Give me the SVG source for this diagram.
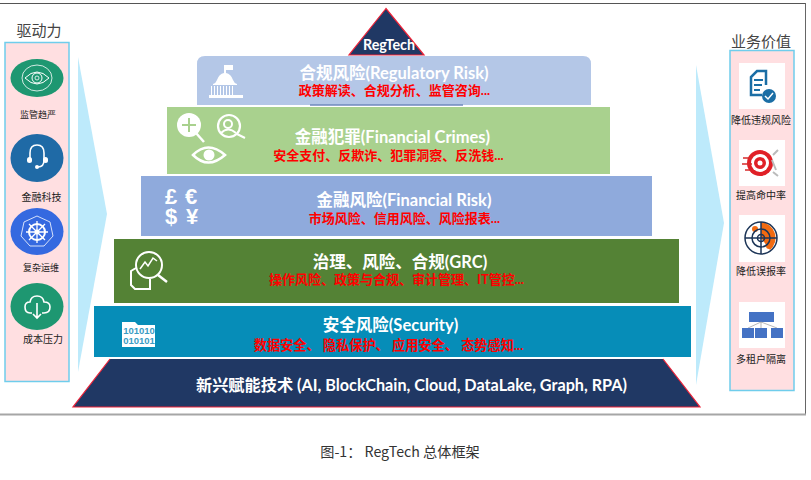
<svg xmlns="http://www.w3.org/2000/svg" width="811" height="480" viewBox="0 0 811 480">
<style>
text{font-family:Lato,"Noto Sans CJK SC","Liberation Sans",sans-serif}
.h{fill:#fff;font-weight:700;font-size:16.500px;text-anchor:middle}
.s{fill:#f00;font-weight:700;font-size:13px;text-anchor:middle}
.l{fill:#222;font-size:10px;text-anchor:middle;font-family:"Noto Sans CJK SC",sans-serif}
.t{fill:#444;font-size:15px;text-anchor:middle;font-family:"Noto Sans CJK SC",sans-serif}
.m{font-family:"Liberation Sans",sans-serif;font-weight:700;text-anchor:middle}
.c{fill:#fff;font-size:22px}
.b{fill:#3a9cc4;font-size:9.500px}
.i{fill:none;stroke:#fff;stroke-width:1.6}
.w{fill:#fff}
.card{fill:#fff}
.panel{fill:#ffdfe1;stroke-width:1.5}
</style>
<rect width="811" height="480" fill="#fff"/>
<g id="frame" fill="none">
<path d="M0 3.500H805.500" stroke="#555" stroke-width="1"/>
<path d="M805.500 3V414" stroke="#666" stroke-width="1"/>
<path d="M0 414.500H806" stroke="#a6a6a6" stroke-width="2"/>
</g>
<g id="connectors">
<polygon points="78,57 107,214 78,372" fill="#bdeafb"/>
<polygon points="696,65 724,223 696,385" fill="#bdeafb"/>
</g>
<g id="drivers">
<text class="t" x="39" y="36">驱动力</text>
<rect class="panel" x="5" y="42.500" width="64" height="339" stroke="#6fcdec"/>
<g id="driver-1">
<ellipse cx="37" cy="78" rx="26.500" ry="19" fill="#1e9771"/>
<ellipse cx="37" cy="78" rx="15" ry="13" fill="none" stroke="#fff" stroke-width=".8"/>
<path d="M25 78Q37 66 49 78Q37 90 25 78Z" fill="none" stroke="#fff" stroke-width="1"/>
<circle cx="37" cy="78" r="5" fill="none" stroke="#fff" stroke-width="1"/><circle cx="37" cy="78" r="2" fill="none" stroke="#fff" stroke-width=".8"/>
<text class="l" x="38" y="118" style="font-size:9px">监管趋严</text>
</g>
<g id="driver-2">
<ellipse cx="37" cy="158" rx="26.500" ry="24" fill="#1f6aa6"/>
<path class="i" d="M30 160V153Q30 145 37 145Q44 145 44 153V160Q44 167 38 167"/>
<rect class="w" x="27" y="157" width="5" height="6" rx="2.500"/><rect class="w" x="43" y="157" width="5" height="6" rx="2.500"/><circle class="w" cx="37" cy="167" r="2"/>
<text class="l" x="41.500" y="201">金融科技</text>
</g>
<g id="driver-3">
<ellipse cx="37" cy="231.500" rx="26.500" ry="23.500" fill="#3569e0"/>
<polygon class="i" points="37,216 50,222 53,236 44,246 30,246 21,236 24,222" style="stroke-width:.8"/>
<circle class="i" cx="37" cy="232" r="8" style="stroke-width:2"/><circle class="w" cx="37" cy="232" r="2.500"/>
<path class="i" d="M37 221V243M26 232H48M29 224L45 240M45 224L29 240" style="stroke-width:1.300"/>
<text class="l" x="41" y="271" style="font-size:9px">复杂运维</text>
</g>
<g id="driver-4">
<ellipse cx="37" cy="306.500" rx="26.500" ry="23.500" fill="#1e9771"/>
<path class="i" d="M32 313H30Q25 313 25 307Q25 302 30 302Q31 296 37 296Q43 296 44 302Q50 302 50 307Q50 313 44 313H42"/>
<path class="i" d="M37 303V318M33 314L37 318L41 314"/>
<text class="l" x="43" y="343">成本压力</text>
</g>
</g>
<g id="layer-apex">
<polygon points="386,8.500 349,55 424,55" fill="#203864" stroke="#ee2238" stroke-width="1.200"/>
<text x="389" y="50" fill="#fff" font-weight="700" font-size="14.300" text-anchor="middle">RegTech</text>
</g>
<g id="layer-regulatory">
<path d="M197 105V64Q197 56 205 56H583Q591 56 591 64V105Z" fill="#b4c7e7"/>
<path d="M310 105H463" stroke="#6f88bd" stroke-width="1.500"/>
<path class="w" d="M209 98V95H211V86H212V95H214V86H215V95H217V86H218V95H220V86H221V95H223V86H224V95H226V86H227V95H229V86H230V95H232V86H233V95H243V98ZM213 84Q216 83 217 80Q219 74 224 73V65H233V70H226V73Q231 74 233 80Q234 83 237 84V85H213Z"/>
<text class="h" x="394" y="79">合规风险(Regulatory Risk)</text>
<text class="s" x="394.500" y="95">政策解读、合规分析、监管咨询...</text>
</g>
<g id="layer-crimes">
<rect x="167" y="107" width="443" height="67" fill="#a9d18e"/>
<circle cx="189" cy="125" r="12" fill="#fff"/>
<path class="i" d="M196 133L204 142" style="stroke-width:2.500"/>
<path d="M182 125H196M189 118V132" stroke="#a9d18e" stroke-width="2"/>
<circle class="i" cx="229" cy="126" r="11" style="stroke-width:2.200"/><circle class="i" cx="228" cy="124" r="4" style="stroke-width:2"/>
<path class="i" d="M221 133Q228 126 236 133M237 134L245 138" style="stroke-width:2"/>
<path class="i" d="M193 155Q208 140 225 155Q208 170 193 155Z" style="stroke-width:2.500"/><circle class="w" cx="209" cy="155" r="5.500"/>
<text class="h" x="392.500" y="143">金融犯罪(Financial Crimes)</text>
<text class="s" x="388.500" y="160">安全支付、反欺诈、犯罪洞察、反洗钱...</text>
</g>
<g id="layer-financial">
<rect x="141" y="176" width="511" height="60" fill="#8faadc"/>
<text class="m c" x="171" y="204">£</text><text class="m c" x="191" y="204">€</text><text class="m c" x="171" y="224">$</text><text class="m c" x="192" y="224">¥</text>
<text class="h" x="404" y="206">金融风险(Financial Risk)</text>
<text class="s" x="404.500" y="223">市场风险、信用风险、风险报表...</text>
</g>
<g id="layer-grc">
<rect x="114" y="239" width="565" height="64" fill="#548235"/>
<circle class="i" cx="149" cy="265" r="13" style="stroke-width:2"/>
<path class="i" d="M140 269L145 262L148 266L153 258L157 261" style="stroke-width:1.500"/>
<path class="i" d="M158 275L167 282" style="stroke-width:2.500"/>
<path class="i" d="M136 268L131 271V285L135 289H150V279" style="stroke-width:2"/>
<text class="h" x="400" y="268">治理、风险、合规(GRC)</text>
<text class="s" x="396.500" y="284">操作风险、政策与合规、审计管理、IT管控...</text>
</g>
<g id="layer-security">
<rect x="94" y="306" width="597" height="51" fill="#068db8"/>
<polygon class="w" points="122,322 135,322 138,325 155,325 155,347 122,347"/>
<text class="m b" x="139" y="334">101010</text>
<text class="m b" x="139" y="344">010101</text>
<text class="h" x="390.500" y="331">安全风险(Security)</text>
<text class="s" x="388.500" y="350" style="font-size:13.200px">数据安全、 隐私保护、 应用安全、 态势感知...</text>
</g>
<g id="layer-tech">
<polygon points="110,359 663,359 700,407 73,407" fill="#203864"/>
<path d="M110 359L73 407H700L663 359" fill="none" stroke="#ee2238" stroke-width="1.200"/>
<text x="411.500" y="391" fill="#fff" font-weight="700" font-size="16.200" text-anchor="middle">新兴赋能技术 (AI, BlockChain, Cloud, DataLake, Graph, RPA)</text>
</g>
<g id="values">
<text class="t" x="761" y="47">业务价值</text>
<rect class="panel" x="730" y="50.500" width="64" height="340" stroke="#6fcdec"/>
<g id="value-1">
<rect class="card" x="739" y="63" width="46" height="46"/>
<path d="M766 85V71H757L751 77V95H762" fill="none" stroke="#1b6ea5" stroke-width="2.500"/>
<path d="M754 80H763M754 85H762M754 90H760" stroke="#1b6ea5" stroke-width="2"/>
<circle cx="769" cy="96" r="7" fill="#1b6ea5"/><path d="M765 96L768 99L773 93" fill="none" stroke="#fff" stroke-width="1.500"/>
<text class="l" x="761" y="124">降低违规风险</text>
</g>
<g id="value-2">
<rect class="card" x="739" y="140" width="46" height="46"/>
<circle cx="760" cy="163" r="13" fill="#e02027"/><circle cx="760" cy="163" r="9" fill="#fff"/><circle cx="760" cy="163" r="6" fill="#e02027"/><circle cx="760" cy="163" r="2.500" fill="#fff"/>
<path d="M743 158H752M742 164H752M745 170H752" stroke="#d62b2b" stroke-width="1.500"/>
<path d="M773 155L778 150M773 172L778 176M772 160L776 170" stroke="#bbb" stroke-width="2"/>
<text class="l" x="761" y="199">提高命中率</text>
</g>
<g id="value-3">
<rect class="card" x="739" y="215" width="46" height="47"/>
<path d="M761 222A16 16 0 0 1 770 250L761 238Z" fill="#f26a10"/>
<circle cx="755" cy="229" r="3" fill="#f26a10"/><circle cx="769" cy="246" r="3" fill="#f26a10"/>
<g fill="none" stroke="#1c3557" stroke-width="1.500"><circle cx="761" cy="238" r="16"/><circle cx="761" cy="238" r="9"/><circle cx="761" cy="238" r="3.500"/><path d="M745 238H777M761 222V254"/></g>
<text class="l" x="761" y="275">降低误报率</text>
</g>
<g id="value-4">
<rect class="card" x="739" y="302" width="46" height="46"/>
<rect x="749" y="312" width="25" height="10" fill="#4472c4"/>
<path d="M761 322L748 328M761 322V328M761 322L777 328" stroke="#999" stroke-width=".7" fill="none"/>
<rect x="742" y="328" width="12" height="10" fill="#4472c4"/><rect x="755" y="328" width="12" height="10" fill="#4472c4"/><rect x="771" y="328" width="12" height="10" fill="#4472c4"/>
<text class="l" x="761" y="363">多租户隔离</text>
</g>
</g>
<text id="caption" x="400" y="457" fill="#333" font-size="14.200" text-anchor="middle" style="font-family:'Noto Sans CJK SC',sans-serif">图-1： RegTech 总体框架</text>
</svg>
